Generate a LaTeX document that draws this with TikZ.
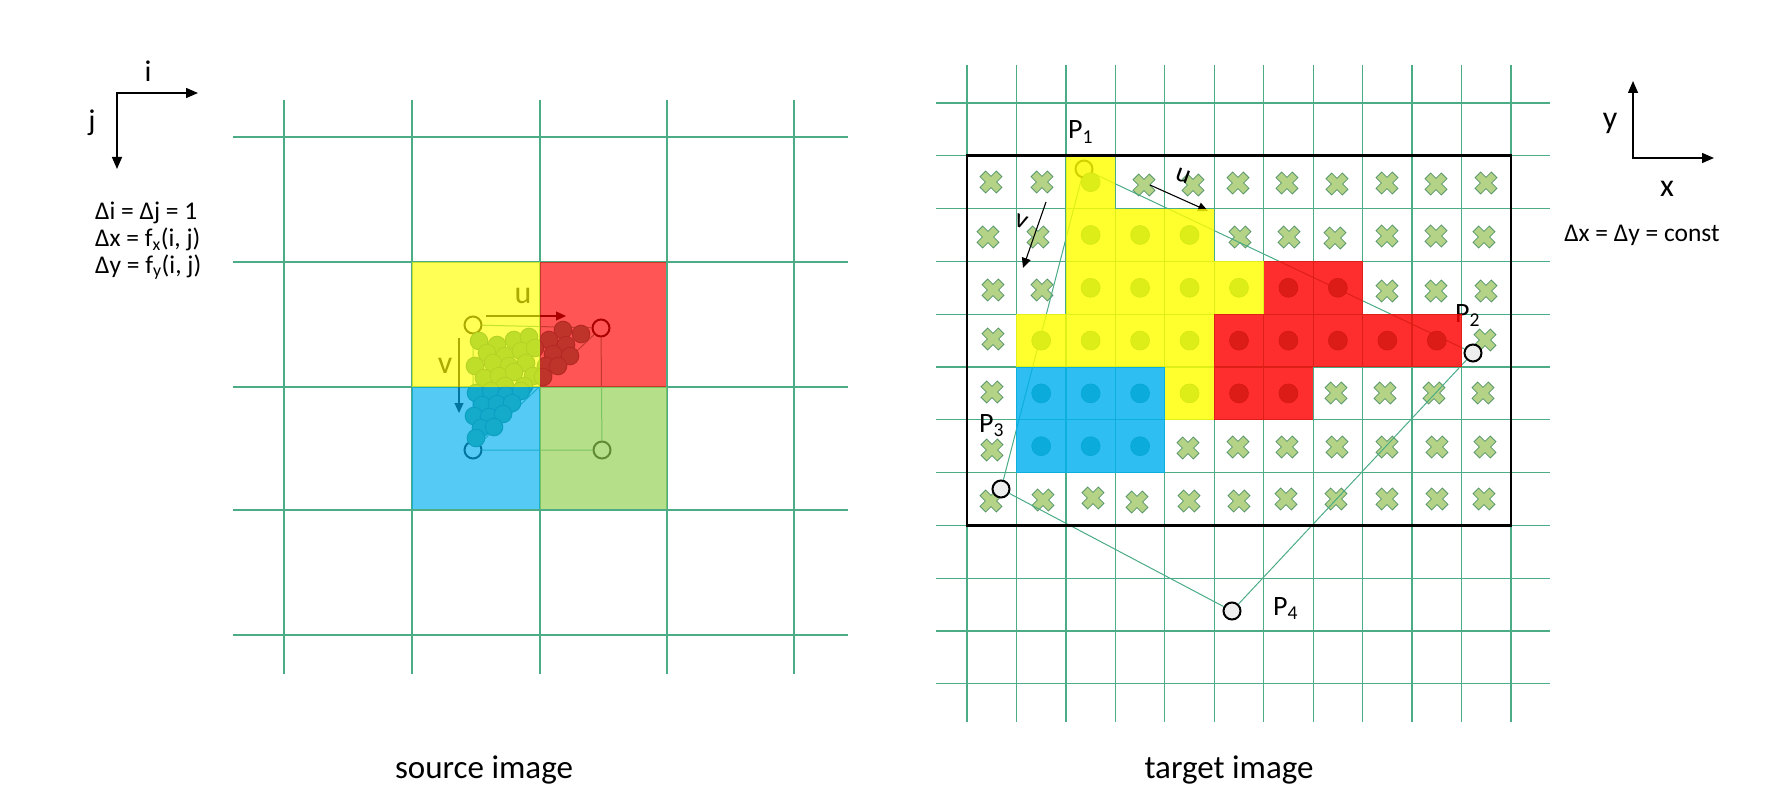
\documentclass[tikz,border=0pt]{standalone}
\usepackage{fontspec}
\setmainfont{Carlito}
\usetikzlibrary{arrows.meta}
\definecolor{gridc}{RGB}{75,172,134}
\definecolor{dotc}{RGB}{62,158,128}
\definecolor{dotline}{RGB}{35,125,110}
\definecolor{crossfill}{RGB}{181,211,135}
\definecolor{crossline}{RGB}{88,150,108}
\definecolor{pfill}{RGB}{238,238,238}
\definecolor{offyellow}{RGB}{255,255,0}
\definecolor{offred}{RGB}{255,0,0}
\definecolor{offblue}{RGB}{0,176,240}
\definecolor{offgreen}{RGB}{146,208,80}
\tikzset{
  gridline/.style={draw=gridc, line width=1.3pt},
  quadline/.style={draw=gridc, line width=1.0pt},
  srcsq/.style={fill opacity=0.667},
  tgtsq/.style={fill opacity=0.82},
  srccircle/.style={circle, draw=black, line width=2pt, minimum size=17pt, inner sep=0pt},
  pcircle/.style={circle, draw=black, fill=pfill, line width=2pt, minimum size=17pt, inner sep=0pt},
  axispath/.style={line width=1.4pt, {Triangle[length=12pt,width=10pt]}-{Triangle[length=12pt,width=10pt]}},
  thinarrow/.style={line width=1.1pt, -{Triangle[length=10pt,width=9pt]}},
  sdot/.style={fill=dotc, draw=dotline, line width=1pt},
  tdot/.style={fill=dotc, draw=dotline, line width=0.6pt},
  axlabel/.style={font=\fontsize{30}{36}\selectfont, inner sep=0pt},
  xylabel/.style={font=\fontsize{32}{38}\selectfont, inner sep=0pt},
  eqtext/.style={font=\fontsize{25.5}{30}\selectfont, inner sep=0pt},
  caption/.style={font=\fontsize{33}{40}\selectfont, inner sep=0pt},
  uvsrc/.style={font=\fontsize{32}{38}\selectfont, inner sep=0pt},
  uvtgt/.style={font=\fontsize{27}{32}\selectfont, inner sep=0pt},
  plabel/.style={font=\fontsize{28}{33}\selectfont, inner sep=0pt, anchor=base west},
  crossmark/.pic={\filldraw[fill=crossfill, draw=crossline, line width=0.8pt, rotate=45]
     (4,11.5) -- (4,4) -- (11.5,4) -- (11.5,-4) -- (4,-4) -- (4,-11.5) -- (-4,-11.5) -- (-4,-4)
     -- (-11.5,-4) -- (-11.5,4) -- (-4,4) -- (-4,11.5) -- cycle;}
}
\begin{document}
\begin{tikzpicture}[x=1pt,y=-1pt]
\useasboundingbox[fill=white] (0,0) rectangle (1785,810);

% ---------- left axes ----------
\coordinate (ijo) at (117,93);
\coordinate (iend) at (198,93);
\coordinate (jend) at (117,169);
\draw[axispath] (jend) -- (ijo) -- (iend);
\node[axlabel, anchor=base] (ilab) at (148,82) {i};
\node[axlabel, anchor=base] (jlab) at (92,131) {j};
\node[eqtext, anchor=base west] (eq1) at (95,220) {Δi = Δj = 1};
\node[eqtext, anchor=base west] (eq2) at (95,247) {Δx = f\textsubscript{x}(i, j)};
\node[eqtext, anchor=base west] (eq3) at (95,273) {Δy = f\textsubscript{y}(i, j)};

% ---------- source image ----------
\foreach \x in {284,412,540,667,794} \draw[gridline] (\x,100) -- (\x,674);
\foreach \y in {137,262,387,510,635} \draw[gridline] (233,\y) -- (848,\y);

\node[srccircle] (sY) at (473,325) {};
\node[srccircle] (sR) at (601,328) {};
\node[srccircle] (sB) at (473,450) {};
\node[srccircle] (sG) at (602,450) {};
\draw[quadline] (sY) -- (sR) -- (sG) -- (sB) -- (sY);
\draw[quadline] (sR) -- (sB);

% mapped sample points (their colour comes from the squares laid over them)
\foreach \p in {(563,330),(581,334),(479,341),(497,345),(514,340),(529,337),(549,340),(566,345),
  (487,353),(505,356),(521,351),(535,348),(553,354),(570,356),
  (475,366),(493,363),(509,366),(526,363),(546,366),(558,366),
  (484,378),(499,376),(514,372),(533,376),(543,377),
  (505,386),(524,386),
  (476,393),(491,391),(506,395),(521,391),
  (482,405),(497,404),(512,403),
  (474,416),(489,417),(503,414),
  (481,428),(494,427),
  (476,438)}
  \filldraw[sdot] \p circle[radius=8.8pt];

\coordinate (su0) at (486,316);
\coordinate (su1) at (566,316);
\draw[thinarrow] (su0) -- (su1);
\coordinate (sv0) at (459,338);
\coordinate (sv1) at (459,413);
\draw[thinarrow] (sv0) -- (sv1);
\node[uvsrc] (sul) at (523,296) {u};
\node[uvsrc] (svl) at (445,366) {v};

\fill[offyellow, srcsq] (412,262) rectangle (540,387);
\fill[offred, srcsq] (540,262) rectangle (666,387);
\fill[offblue, srcsq] (412,387) rectangle (540,509);
\fill[offgreen, srcsq] (540,387) rectangle (667,509);

\node[caption, anchor=base] (srccap) at (484,778) {source image};

% ---------- target image ----------
\foreach \k in {0,...,11} \draw[gridline] ({967+49.45*\k},65) -- ({967+49.45*\k},722);
\foreach \n in {0,...,11} \draw[gridline] (936,{103+52.8*\n}) -- (1550,{103+52.8*\n});

\foreach \p in {(991,182),(1042,182),(1144,185),(1193,185),(1238,183),(1287,183),(1337,184),(1387,183),(1436,184),(1486,183),
  (988,237),(1038,237),(1240,237),(1289,237),(1335,238),(1387,236),(1436,236),(1484,237),
  (993,290),(1042,290),(1387,291),(1436,291),(1486,291),
  (993,339),(1485,340),
  (992,392),(1336,393),(1385,393),(1434,393),(1483,393),
  (992,450),(1188,448),(1238,447),(1287,447),(1337,447),(1387,447),(1437,447),(1485,447),
  (991,501),(1043,500),(1093,498),(1137,502),(1189,501),(1239,501),(1286,499),(1336,499),(1387,499),(1437,499),(1484,499)}
  \pic at \p {crossmark};

\node[pcircle] (P1) at (1084,169) {};
\node[pcircle] (P2) at (1473,353) {};
\node[pcircle] (P3) at (1001,489) {};
\node[pcircle] (P4) at (1232,611) {};
\draw[quadline] (P1) -- (P2) -- (P4) -- (P3) -- (P1);

\node[plabel] (P1lab) at (1068,139) {P\textsubscript{1}};
\node[plabel] (P2lab) at (1455,322) {P\textsubscript{2}};
\node[plabel] (P3lab) at (979,432) {P\textsubscript{3}};
\node[plabel] (P4lab) at (1273,615) {P\textsubscript{4}};

\coordinate (tu0) at (1150,185);
\coordinate (tu1) at (1208,211);
\draw[thinarrow] (tu0) -- (tu1);
\coordinate (tv0) at (1046,202);
\coordinate (tv1) at (1023,268);
\draw[thinarrow] (tv0) -- (tv1);
\node[uvtgt, rotate=-20] (tul) at (1183,176) {u};
\node[uvtgt, rotate=-20] (tvl) at (1021,222) {v};

\foreach \k/\r in {2/0,2/1,3/1,4/1,2/2,3/2,4/2,5/2,1/3,2/3,3/3,4/3,4/4,6/2,7/2,5/3,6/3,7/3,8/3,9/3,5/4,6/4,1/4,2/4,3/4,1/5,2/5,3/5}
  \filldraw[tdot] ({967+49.45*(\k+0.5)},{155.8+52.8*(\r+0.5)}) circle[radius=9.5pt];

\foreach \k/\r in {2/0,2/1,3/1,4/1,2/2,3/2,4/2,5/2,1/3,2/3,3/3,4/3,4/4}
  \fill[offyellow, tgtsq] ({967+49.45*\k},{155.8+52.8*\r}) rectangle ++(49.45,52.8);
\foreach \k/\r in {6/2,7/2,5/3,6/3,7/3,8/3,9/3,5/4,6/4}
  \fill[offred, tgtsq] ({967+49.45*\k},{155.8+52.8*\r}) rectangle ++(49.45,52.8);
\foreach \k/\r in {1/4,2/4,3/4,1/5,2/5,3/5}
  \fill[offblue, tgtsq] ({967+49.45*\k},{155.8+52.8*\r}) rectangle ++(49.45,52.8);

\draw[line width=2.8pt] (967,155.8) rectangle (1511,525.4);

\node[caption, anchor=base] (tgtcap) at (1229,778) {target image};

% ---------- right axes ----------
\coordinate (xyo) at (1633,158);
\coordinate (yend) at (1633,81);
\coordinate (xend) at (1714,158);
\draw[axispath] (yend) -- (xyo) -- (xend);
\node[xylabel, anchor=base] (ylab) at (1610,129) {y};
\node[xylabel, anchor=base] (xlab) at (1667,197) {x};
\node[eqtext, anchor=base] (eq4) at (1642,242) {Δx = Δy = const};
\end{tikzpicture}
\end{document}
